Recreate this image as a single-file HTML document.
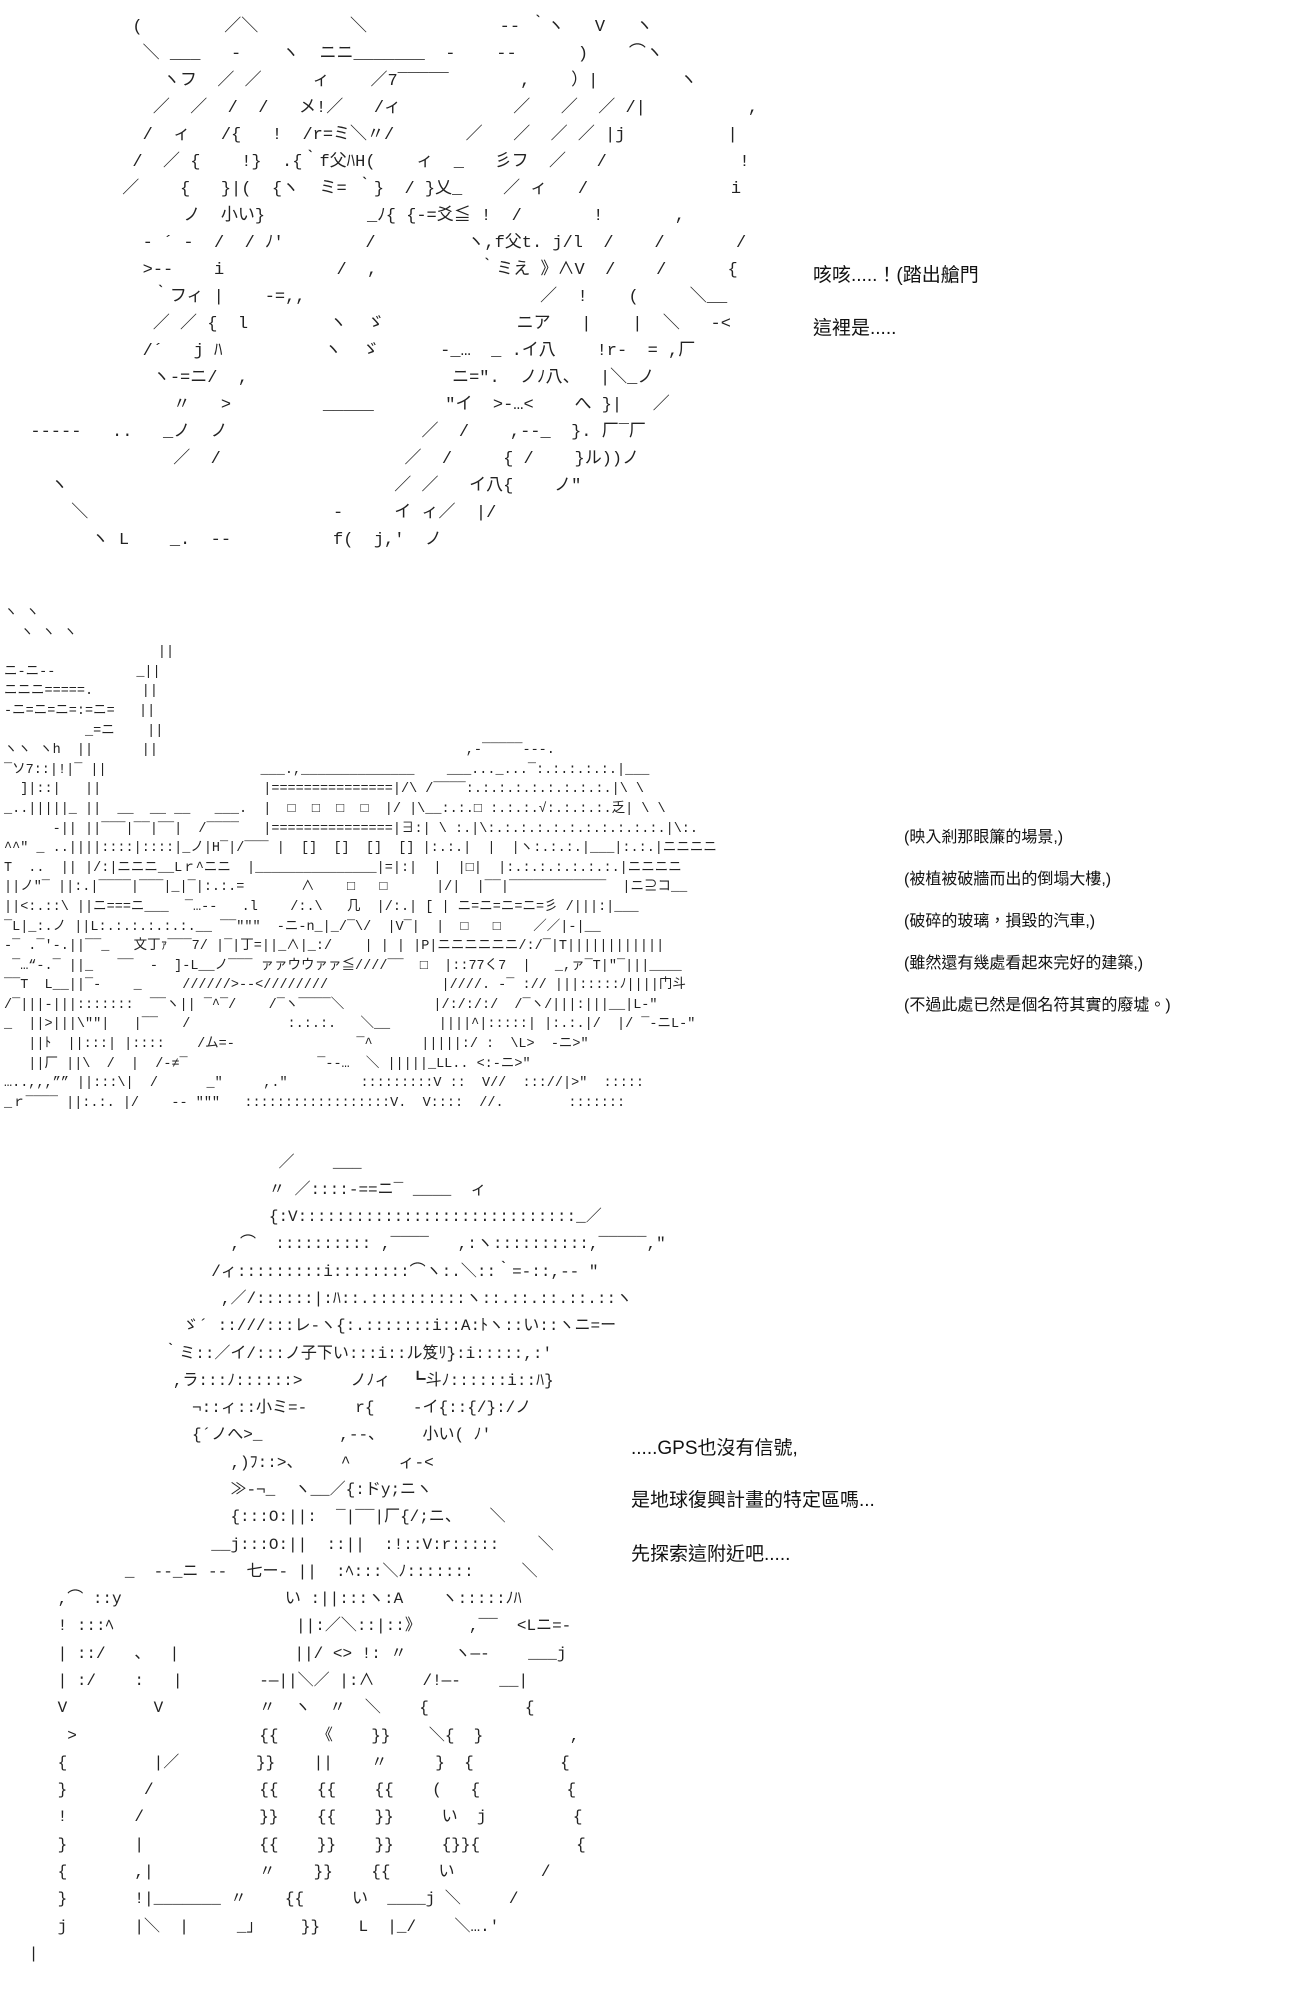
<!DOCTYPE html>
<html><head><meta charset="utf-8">
<style>
html,body{margin:0;padding:0;background:#fff;width:1300px;height:2000px;}
#w{position:relative;width:1300px;height:2000px;overflow:hidden;background:#fff;}
pre{position:absolute;margin:0;font-family:"Liberation Mono","Noto Sans CJK JP",monospace;font-size:17px;line-height:27px;color:#222;white-space:pre;}
.l{position:absolute;left:0;margin:0;font-family:"Liberation Mono","Noto Sans CJK JP",monospace;font-size:16px;line-height:20px;color:#222;white-space:pre;}
.t{position:absolute;font-family:"Liberation Sans","Noto Sans CJK TC",sans-serif;color:#111;white-space:nowrap;}
.a{font-size:19px;}
.b{font-size:16px;}
</style></head><body><div id="w">

<pre style="left:10px;top:14px;">            (        ／＼         ＼             -‐ ｀ヽ   V   ヽ
             ＼ ___   -    ヽ  ニニ_______  -    --      )    ⌒ヽ
               ヽフ  ／ ／     ィ    ／7‾‾‾‾‾       ,    ）|        ヽ
              ／  ／  /  /   メ!／   /ィ           ／   ／  ／ /|          ,
             /  ィ   /{   !  /r=ミ＼〃/       ／   ／  ／ ／ |j          |
            /  ／ {    !}  .{｀f父ﾊH(    ィ  _   彡フ  ／   /             !
           ／    {   }|(  {ヽ  ミ= ｀}  / }乂_    ／ ィ   /              i
                 ノ  小い}          _ﾉ{ {-=爻≦ !  /       !       ,
             - ´ -  /  / ﾉ'        /         ヽ,f父t. j/l  /    /       /
             &gt;‐-    i           /  ,          ｀ミえ 》∧V  /    /      {
              ｀フィ |    -=,,                       ／  !    (     ＼__
              ／ ／ {  l        ヽ  ゞ             ニア   |    |  ＼   -&lt;
             /´   j ﾊ          ヽ  ゞ      -_…  _ .イ八    !r-  = ,厂
              ヽ-=ニ/  ,                    ニ=″.  ノﾉ八、  |＼_ノ
                〃   &gt;         _____       ″イ  &gt;-…&lt;    へ }|   ／
  -----   ..   _ノ  ノ                   ／  /    ,--_  }. 厂‾厂
                ／  /                  ／  /     { /    }ル))ノ
    ヽ                                ／ ／   イ八{    ノ″
      ＼                        -     イ ィ／  |/
        ヽ L    _.  --          f(  j,′  ノ</pre>

<div class="t a" style="left:813px;top:260px;">咳咳.....！(踏出艙門</div>
<div class="t a" style="left:813px;top:313px;">這裡是.....</div>

<pre style="left:4px;top:604px;font-size:13.5px;line-height:19.6px;">ヽ ヽ
  ヽ ヽ ヽ
                   ||
ニ-ニ--          _||
ニニニ=====.      ||
-ニ=ニ=ニ=:=ニ=   ||
          _=ニ    ||
ヽヽ ヽh  ||      ||                                      ,-‾‾‾‾‾---.
‾ソ7::|!|‾ ||                   ___.,______________    ___..._...‾:.:.:.:.:.|___
  ]|::|   ||                    |===============|/\ /‾‾‾‾:.:.:.:.:.:.:.:.:.|\ \
_..|||||_ ||  __  __ __   ___.  |  □  □  □  □  |/ |\__:.:.□ :.:.:.√:.:.:.:.乏| \ \
      -|| ||‾‾‾|‾‾|‾‾|  /‾‾‾‾   |===============|∃:| \ :.|\:.:.:.:.:.:.:.:.:.:.:.|\:.
^^″ _ ..||||::::|::::|_ノ|H‾|/‾‾‾ |  []  []  []  [] |:.:.|  |  |ヽ:.:.:.|___|:.:.|ニニニニ
T  ..  || |/:|ニニニ__Lｒ^ニニ  |_______________|=|:|  |  |□|  |:.:.:.:.:.:.:.|ニニニニ
||ノ″‾ ||:.|‾‾‾‾|‾‾‾|_|‾|:.:.=       ∧    □   □      |/|  |‾‾|‾‾‾‾‾‾‾‾‾‾‾‾  |ニ⊇コ__
||&lt;:.::\ ||ニ===ニ___  ‾…--   .l    /:.\   几  |/:.| [ | ニ=ニ=ニ=ニ=彡 /|||:|___
‾L|_:.ノ ||L:.:.:.:.:.:.__ ‾‾″″″  -ニ-n_|_/‾\/  |V‾|  |  □   □    ／／|-|__
-‾ .‾'-.||‾‾_   文丁ｧ‾‾‾7/ |‾|丁=||_∧|_:/    | | | |P|ニニニニニニ/:/‾|T||||||||||||
 ‾…“-.‾ ||_   ‾‾  -  ]‐L__ノ‾‾‾ ァァウウァァ≦////‾‾  □  |::77く7  |   _,ァ‾T|″‾|||____
‾‾T  L__||‾-    _     //////&gt;‐‐&lt;////////              |////. -‾ :// |||:::::ﾉ||||门斗
/‾|||‐|||:::::::  ‾‾ヽ|| ‾^‾/    /‾ヽ‾‾‾‾＼           |/:/:/:/  /‾ヽ/|||:|||__|L-″
_  ||&gt;|||\″″|   |‾‾   /            :.:.:.   ＼__      ||||^|:::::| |:.:.|/  |/ ‾-ニL-″
   ||ﾄ  ||:::| |::::    /ム=-               ‾^      |||||:/ :  \L&gt;  -ニ&gt;″
   ||厂 ||\  /  |  /-≠‾                ‾-‐…  ＼ |||||_LL.. &lt;:-ニ&gt;″
…..,,,”” ||:::\|  /      _″     ,.″         :::::::::V ::  V//  ::://|&gt;″  :::::
_ｒ‾‾‾‾ ||:.:. |/    -- ″″″   ::::::::::::::::::V.  V::::  //.        :::::::</pre>

<div class="t b" style="left:904px;top:823px;">(映入剎那眼簾的場景,)</div>
<div class="t b" style="left:904px;top:865px;">(被植被破牆而出的倒塌大樓,)</div>
<div class="t b" style="left:904px;top:907px;">(破碎的玻璃，損毀的汽車,)</div>
<div class="t b" style="left:904px;top:949px;">(雖然還有幾處看起來完好的建築,)</div>
<div class="t b" style="left:904px;top:991px;">(不過此處已然是個名符其實的廢墟。)</div>

<div class="l" style="top:1153px;">                             ／    ___</div>
<div class="l" style="top:1180px;">                            〃 ／::::-==ニ‾ ____  ィ</div>
<div class="l" style="top:1207px;">                            {:V:::::::::::::::::::::::::::::_／</div>
<div class="l" style="top:1234px;">                        ,⌒  :::::::::: ,‾‾‾‾   ,:ヽ::::::::::,‾‾‾‾‾,″</div>
<div class="l" style="top:1262px;">                      /ィ:::::::::i::::::::⌒ヽ:.＼::｀=-::,-‐ ″</div>
<div class="l" style="top:1289px;">                       ,／/::::::|:ﾊ::.::::::::::ヽ::.::.::.::.::ヽ</div>
<div class="l" style="top:1316px;">                   ゞ´ ::///:::レ‐ヽ{:.:::::::i::A:ﾄヽ::い::ヽニ=ー</div>
<div class="l" style="top:1344px;">                 ｀ミ::／イ/:::ノ子下い:::i::ル笈ﾘ}:i:::::,:′</div>
<div class="l" style="top:1371px;">                  ,ラ:::ﾉ::::::&gt;     ノﾉィ  ┗斗ﾉ::::::i::ﾊ}</div>
<div class="l" style="top:1398px;">                    ¬::ィ::小ミ=-     r{    -イ{::{/}:/ノ</div>
<div class="l" style="top:1425px;">                    {´ノへ&gt;_        ,--、    小い( ﾉ′</div>
<div class="l" style="top:1453px;">                        ,)ﾌ::&gt;、    ^     ィ-&lt;</div>
<div class="l" style="top:1480px;">                        ≫-¬_  ヽ__／{:ドy;ニヽ</div>
<div class="l" style="top:1507px;">                        {:::O:||:  ‾|‾‾|厂{/;ニ、   ＼</div>
<div class="l" style="top:1535px;">                      __j:::O:||  ::||  :!::V:r:::::    ＼</div>
<div class="l" style="top:1562px;">             _  --_ニ --  七ー- ||  :ﾍ:::＼ﾉ:::::::     ＼</div>
<div class="l" style="top:1589px;">      ,⌒ ::y                 い :||:::ヽ:A    ヽ:::::ﾉﾊ</div>
<div class="l" style="top:1616px;">      ! :::ﾍ                   ||:／＼::|::》     ,‾‾  &lt;Lニ=-</div>
<div class="l" style="top:1644px;">      | ::/   、  |            ||/ &lt;&gt; !: 〃     ヽ—-    ___j</div>
<div class="l" style="top:1671px;">      | :/    :   |        -—||＼／ |:∧     /!—-    __|</div>
<div class="l" style="top:1698px;">      V         V          〃  ヽ  〃  ＼    {          {</div>
<div class="l" style="top:1726px;">       &gt;                   {{    《    }}    ＼{  }         ,</div>
<div class="l" style="top:1753px;">      {         |／        }}    ||    〃     }  {         {</div>
<div class="l" style="top:1780px;">      }        /           {{    {{    {{    (   {         {</div>
<div class="l" style="top:1807px;">      !       /            }}    {{    }}     い  j         {</div>
<div class="l" style="top:1835px;">      }       |            {{    }}    }}     {}}{          {</div>
<div class="l" style="top:1862px;">      {       ,|           〃    }}    {{     い         /</div>
<div class="l" style="top:1889px;">      }       !|_______ 〃    {{     い  ____j ＼     /</div>
<div class="l" style="top:1917px;">      j       |＼  |     _」    }}    L  |_/    ＼….′</div>
<div class="l" style="top:1944px;">   |</div>

<div class="t a" style="left:631px;top:1433px;">.....GPS也沒有信號,</div>
<div class="t a" style="left:631px;top:1485px;">是地球復興計畫的特定區嗎...</div>
<div class="t a" style="left:631px;top:1539px;">先探索這附近吧.....</div>

</div></body></html>
